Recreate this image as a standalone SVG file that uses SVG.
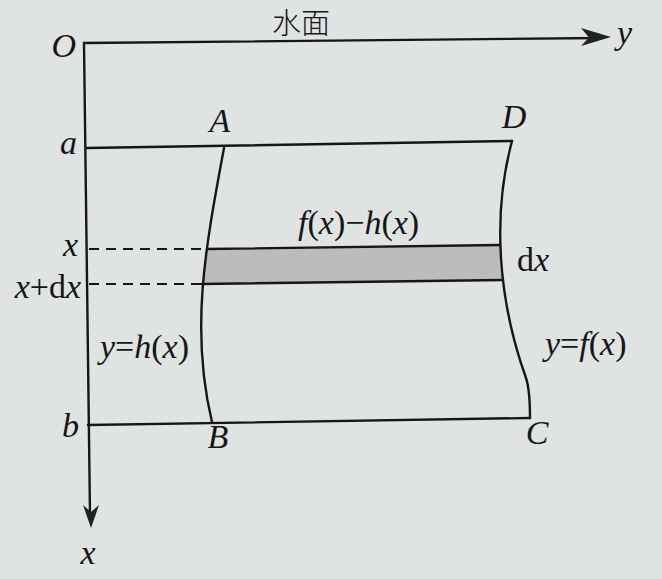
<svg xmlns="http://www.w3.org/2000/svg" width="662" height="579" viewBox="0 0 662 579">
<style>
.ln{fill:none;stroke:#161616;stroke-width:2.4;stroke-linecap:round;stroke-linejoin:round}
.ds{fill:none;stroke:#161616;stroke-width:2;stroke-dasharray:10 7}
.t{font-family:"Liberation Serif","Times New Roman",serif;font-size:34px;font-style:italic;fill:#161616}
.u{font-style:normal}
.cjk{font-family:"Noto Sans CJK SC","Noto Sans CJK JP",sans-serif;font-size:29px;font-weight:300;fill:#161616}
.ah{fill:#222;stroke:none}
</style>
<rect width="662" height="579" fill="#dfe3e2"/>
<g id="strip">
<polygon points="207,249 500,245 503,280 202,284" fill="#bcbcbc"/>
</g>
<g id="connectors">
<line class="ln" x1="84" y1="43" x2="600" y2="38"/>
<path class="ah" d="M611,37 L581,28 L589,37.5 L581,46 Z"/>
<line class="ln" x1="84" y1="43" x2="90" y2="515"/>
<path class="ah" d="M91,528 L83,505 L91,512 L99,505 Z"/>
<line class="ln" x1="86" y1="148" x2="512" y2="141"/>
<line class="ln" x1="88" y1="425" x2="530" y2="418"/>
<path class="ln" d="M224,148 C205,250 190,330 212,422"/>
<path class="ln" d="M512,141 C492,215 498,300 526,378 Q530,390 530,418"/>
<line class="ln" x1="207" y1="249" x2="500" y2="245"/>
<line class="ln" x1="202" y1="284" x2="503" y2="280"/>
<line class="ds" x1="89" y1="249" x2="207" y2="249"/>
<line class="ds" x1="89" y1="284" x2="202" y2="284"/>
</g>
<g id="labels">
<text class="cjk" x="301" y="34" text-anchor="middle">水面</text>
<text class="t" x="76" y="57" text-anchor="end">O</text>
<text class="t" x="617" y="44">y</text>
<text class="t" x="77" y="154" text-anchor="end">a</text>
<text class="t" x="220" y="132" text-anchor="middle">A</text>
<text class="t" x="514" y="128" text-anchor="middle">D</text>
<text class="t" x="79" y="437" text-anchor="end">b</text>
<text class="t" x="218" y="448" text-anchor="middle">B</text>
<text class="t" x="537" y="444" text-anchor="middle">C</text>
<text class="t" x="88" y="564" text-anchor="middle">x</text>
<text class="t" x="78" y="256" text-anchor="end">x</text>
<text class="t" x="81" y="298" text-anchor="end">x<tspan class="u">+d</tspan>x</text>
<text class="t" x="298" y="234">f<tspan class="u">(</tspan>x<tspan class="u">)−</tspan>h<tspan class="u">(</tspan>x<tspan class="u">)</tspan></text>
<text class="t" x="517" y="271"><tspan class="u">d</tspan>x</text>
<text class="t" x="100" y="358">y<tspan class="u">=</tspan>h<tspan class="u">(</tspan>x<tspan class="u">)</tspan></text>
<text class="t" x="545" y="355">y<tspan class="u">=</tspan>f<tspan class="u">(</tspan>x<tspan class="u">)</tspan></text>
</g>
</svg>
